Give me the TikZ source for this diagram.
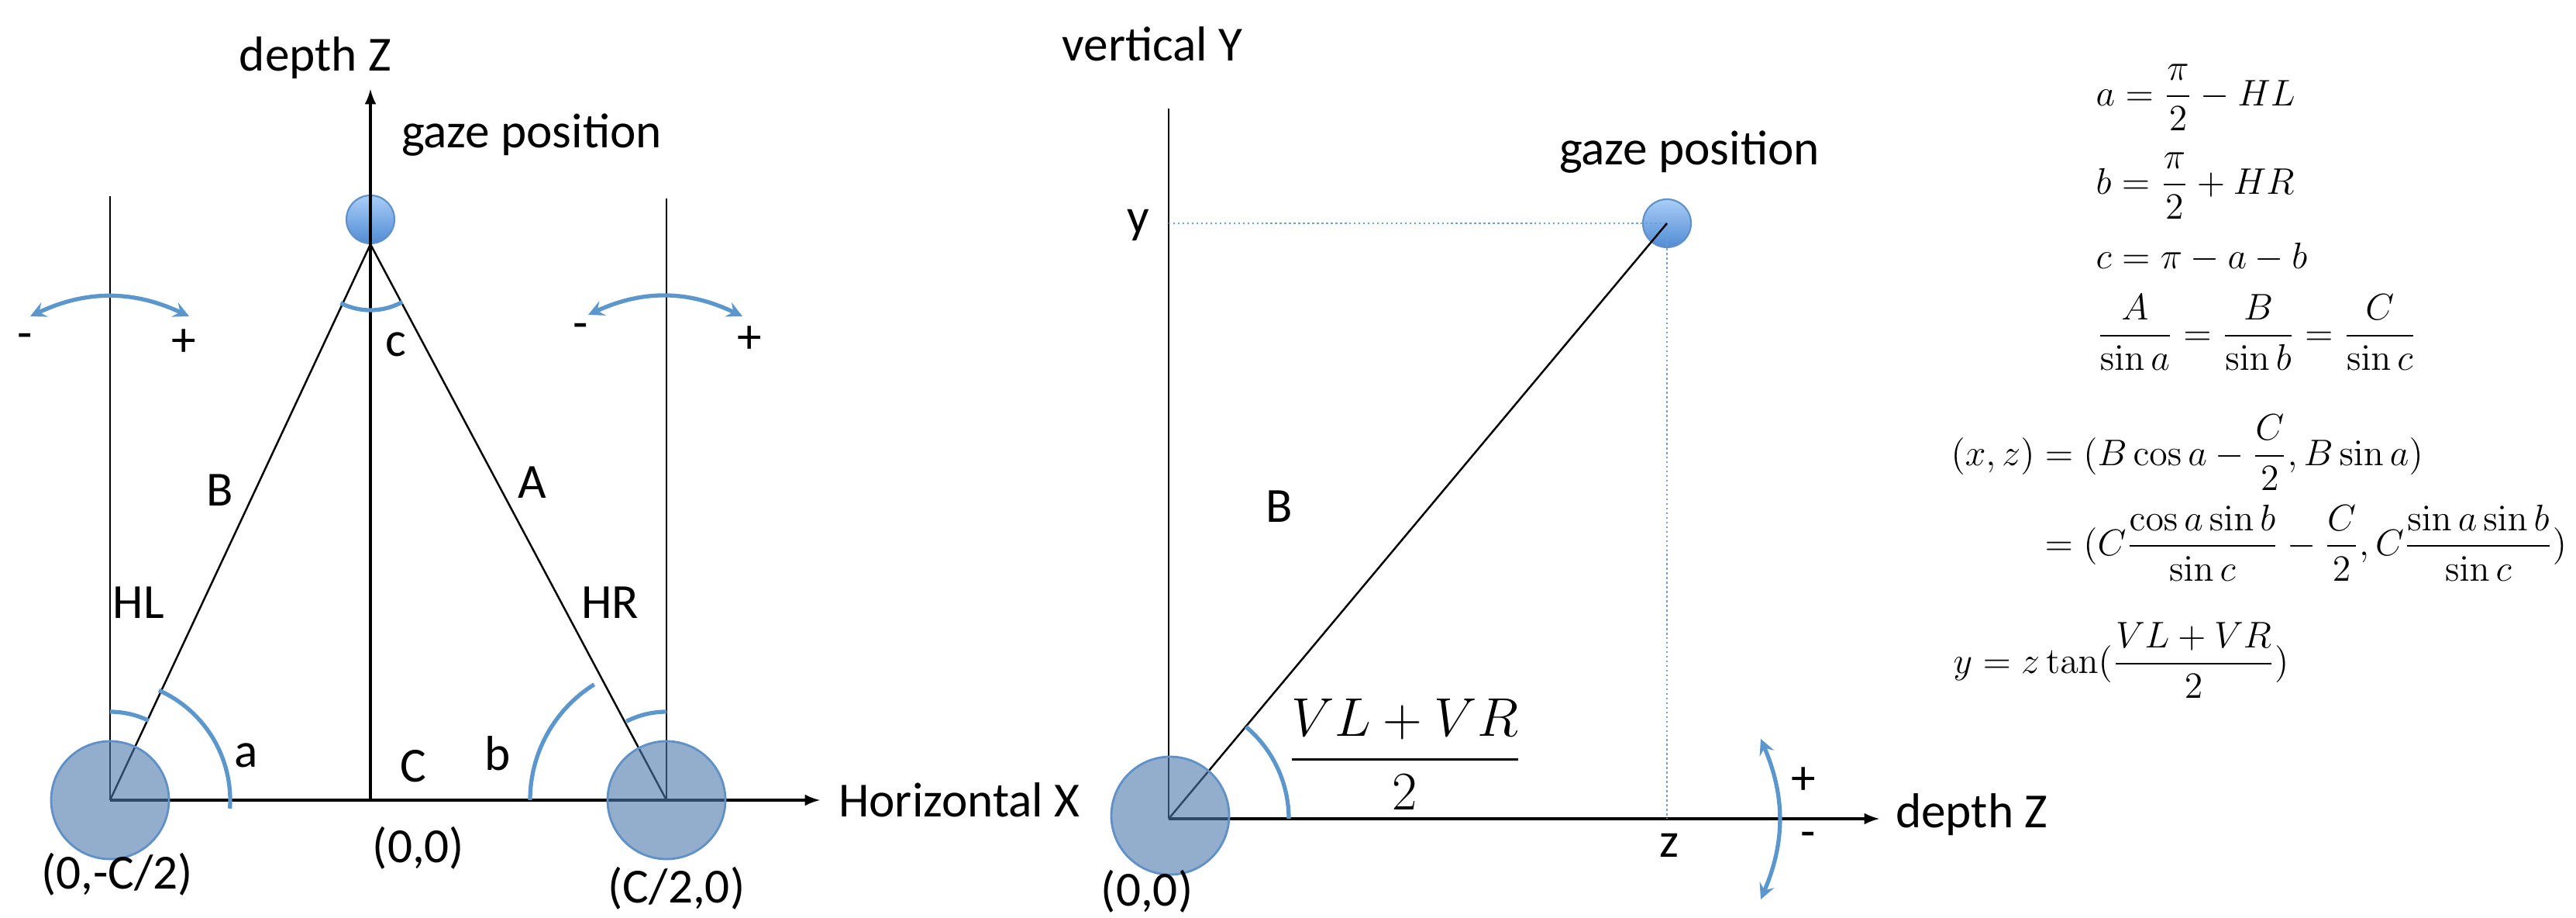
\RequirePackage{fix-cm}
\documentclass[tikz,border=0pt]{standalone}
\usepackage[no-math]{fontspec}
\setmainfont{Carlito}
\usepackage{amsmath}
\usetikzlibrary{arrows,positioning}
\definecolor{arcblue}{RGB}{91,150,205}
\definecolor{eyeblue}{RGB}{75,120,170}
\definecolor{eyeedge}{RGB}{95,145,200}
\definecolor{gazetop}{RGB}{170,205,248}
\definecolor{gazebot}{RGB}{80,140,212}
\definecolor{dotblue}{RGB}{110,160,215}

\begin{document}
\begin{tikzpicture}[
		eye/.style={circle, draw=eyeedge, line width=0.8pt, fill=eyeblue,
			fill opacity=0.6, minimum size=1.52cm, inner sep=0pt},
		gaze/.style={circle, draw=eyeedge, line width=0.6pt, top color=gazetop,
			bottom color=gazebot, minimum size=0.62cm, inner sep=0pt},
		ln/.style={line width=0.7pt},
		axis/.style={-latex, line width=0.9pt},
		angarc/.style={arcblue, line width=1.5pt},
		turn/.style={stealth-stealth, arcblue, line width=1.5pt},
		guide/.style={dotblue, densely dotted, line width=0.7pt},
		lab/.style={font=\fontsize{18}{21}\selectfont, inner sep=1pt},
		eq/.style={font=\fontsize{13.6}{16}\selectfont, anchor=west, inner sep=0pt}
	]
		\useasboundingbox (0,0) rectangle (33.24,11.83);
		% top view
		\coordinate (L) at (1.42,1.51);
		\coordinate (O) at (4.78,1.51);
		\coordinate (R) at (8.60,1.51);
		\coordinate (Ltop) at (1.42,9.30);
		\coordinate (Rtop) at (8.60,9.27);
		\coordinate (Ztop) at (4.78,10.68);
		\coordinate (Xend) at (10.58,1.51);
		\node[gaze] (G) at (4.78,9.00) {};
		\draw[ln] (L) -- (Ltop);
		\draw[ln] (R) -- (Rtop);
		\draw[axis] (O) -- (Ztop);
		\draw[axis] (L) -- (Xend);
		\draw[ln] (L) -- (G.south) -- (R);
		\draw[angarc] ([shift={(-4:1.55)}]L) arc (-4:66:1.55);
		\draw[angarc] ([shift={(64:1.14)}]L) arc (64:90:1.14);
		\draw[angarc] ([shift={(122:1.76)}]R) arc (122:180:1.76);
		\draw[angarc] ([shift={(90:1.14)}]R) arc (90:117:1.14);
		\draw[angarc] ([shift={(243:0.85)}]G.south) arc (243:299:0.85);
		\node[eye] (eyeL) at (L) {};
		\node[eye] (eyeR) at (R) {};
		\coordinate (la1) at (0.39,7.75);
		\coordinate (la2) at (2.44,7.75);
		\coordinate (ra1) at (7.59,7.77);
		\coordinate (ra2) at (9.58,7.75);
		\draw[turn] (la1) to[bend left=25] (la2);
		\draw[turn] (ra1) to[bend left=25] (ra2);
		\node[lab] (tz) at (4.07,11.08) {depth Z};
		\node[lab] (tg) at (6.86,10.09) {gaze position};
		\node[lab, anchor=west] (tx) at (10.78,1.51) {Horizontal X};
		\node[lab] (lm) at (0.32,7.43) {-};
		\node[lab] (lp) at (2.37,7.41) {+};
		\node[lab] (rm) at (7.49,7.56) {-};
		\node[lab] (rp) at (9.67,7.45) {+};
		\node[lab] (tc) at (5.11,7.39) {c};
		\node[lab] (tB) at (2.84,5.51) {B};
		\node[lab] (tA) at (6.87,5.61) {A};
		\node[lab] (tHL) at (1.79,4.06) {HL};
		\node[lab] (tHR) at (7.87,4.06) {HR};
		\node[lab] (ta) at (3.18,2.09) {a};
		\node[lab] (tC) at (5.33,1.95) {C};
		\node[lab] (tb) at (6.42,2.11) {b};
		\node[lab] (pL) at (1.51,0.55) {(0,-C/2)};
		\node[lab] (pO) at (5.40,0.89) {(0,0)};
		\node[lab] (pR) at (8.73,0.37) {(C/2,0)};
		% side view
		\coordinate (O2) at (15.08,1.27);
		\coordinate (Ytop) at (15.08,10.43);
		\coordinate (Zend) at (24.25,1.27);
		\coordinate (yfoot) at (15.08,8.95);
		\coordinate (zfoot) at (21.51,1.27);
		\node[gaze] (G2) at (21.51,8.95) {};
		\draw[ln] (O2) -- (Ytop);
		\draw[axis] (O2) -- (Zend);
		\draw[guide] (yfoot) -- (G2.center) -- (zfoot);
		\draw[ln] (O2) -- (G2.center);
		\draw[angarc] ([shift={(0:1.55)}]O2) arc (0:50:1.55);
		\node[eye] (eyeO) at (15.10,1.31) {};
		\coordinate (va1) at (22.72,2.30);
		\coordinate (va2) at (22.72,0.23);
		\draw[turn] (va1) to[bend left=23] (va2);
		\node[lab] (tY) at (14.87,11.26) {vertical Y};
		\node[lab] (tg2) at (21.80,9.87) {gaze position};
		\node[lab, anchor=west] (tz2) at (24.42,1.32) {depth Z};
		\node[lab] (ty) at (14.69,8.93) {y};
		\node[lab] (tzz) at (21.54,0.93) {z};
		\node[lab] (tB2) at (16.51,5.30) {B};
		\node[lab] (vp) at (23.27,1.76) {+};
		\node[lab] (vm) at (23.33,1.00) {-};
		\node[lab] (pO2) at (14.80,0.33) {(0,0)};
		\node[font=\fontsize{20}{24}\selectfont] (vfrac) at (18.13,2.10) {$\dfrac{VL+VR}{2}$};
		% formulas
		\node[eq] (f1) at (27.04,10.57) {$\displaystyle a=\frac{\pi}{2}-HL$};
		\node[eq] (f2) at (27.04,9.43) {$\displaystyle b=\frac{\pi}{2}+HR$};
		\node[eq] (f3) at (27.04,8.51) {$c=\pi-a-b$};
		\node[eq] (f4) at (27.05,7.54) {$\displaystyle \frac{A}{\sin a}=\frac{B}{\sin b}=\frac{C}{\sin c}$};
		\node[eq] (f5) at (25.17,5.99) {$\displaystyle (x,z)=(B\cos a-\frac{C}{2},B\sin a)$};
		\node[eq] (f6) at (26.38,4.83) {$\displaystyle =(C\frac{\cos a\sin b}{\sin c}-\frac{C}{2},C\frac{\sin a\sin b}{\sin c})$};
		\node[eq] (f7) at (25.20,3.31) {$\displaystyle y=z\tan(\frac{VL+VR}{2})$};
	\end{tikzpicture}
\end{document}
